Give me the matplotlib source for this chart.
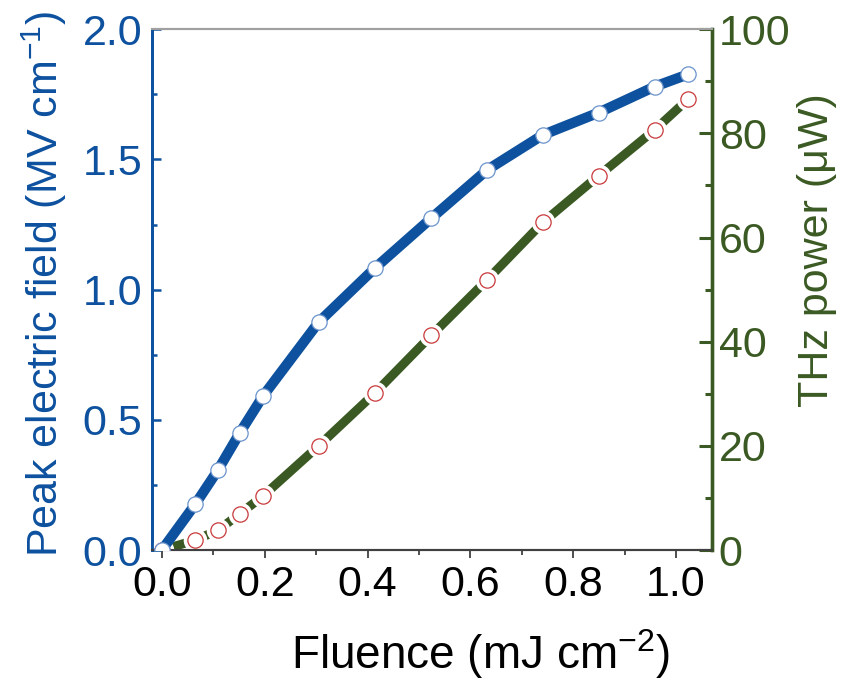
import matplotlib
matplotlib.use("Agg")
import matplotlib.pyplot as plt
from matplotlib.ticker import MultipleLocator

plt.rcParams['font.family'] = ['Liberation Sans', 'DejaVu Sans']
plt.rcParams['mathtext.fontset'] = 'custom'
plt.rcParams['mathtext.rm'] = 'Liberation Sans'
plt.rcParams['mathtext.it'] = 'Liberation Sans:italic'
plt.rcParams['mathtext.bf'] = 'Liberation Sans:bold'

# Data
fluence = [0.0, 0.065, 0.109, 0.151, 0.197, 0.305, 0.414, 0.524, 0.633, 0.741, 0.850, 0.959, 1.024]
field = [0.0, 0.176, 0.307, 0.448, 0.592, 0.875, 1.082, 1.274, 1.460, 1.594, 1.680, 1.780, 1.827]
power = [0.0, 1.9, 3.8, 6.9, 10.4, 20.0, 30.1, 41.2, 51.9, 62.9, 71.9, 80.7, 86.6]

xticks = [0.0, 0.2, 0.4, 0.6, 0.8, 1.0]
yticks_left = [0.0, 0.5, 1.0, 1.5, 2.0]
yticks_right = [0, 20, 40, 60, 80, 100]

BLUE = '#0d519f'
BLUE_EDGE = '#6b93cc'
GREEN = '#3b5a23'
RED = '#c8393a'
FS = 31
FS_Y = 31
FS_X = 33

fig = plt.figure(figsize=(8.44, 6.83), dpi=100)
ax = fig.add_axes([0.180, 0.1947, 0.6635, 0.7625])
ax2 = ax.twinx()

# Blue: peak electric field
ax.plot(fluence, field, '-', color=BLUE, lw=7.4, zorder=2, solid_capstyle='butt')
ax.plot(fluence, field, 'o', ms=11, mfc='white', mec=BLUE_EDGE, mew=0.9, zorder=3)

# Green: THz power
ax2.plot(fluence, power, '-', color=GREEN, lw=6.5, zorder=2, solid_capstyle='butt')
ax2.plot(fluence, power, 'o', ms=17, mfc='white', mec='white', mew=0, zorder=3)
ax2.plot(fluence, power, 'o', ms=11, mfc='white', mec=RED, mew=0.9, zorder=4)

ax.set_xlim(-0.0194, 1.070)
ax.set_ylim(0, 2.0)
ax2.set_ylim(0, 100)

ax.set_xticks(xticks)
ax.set_xticklabels([f'{v:.1f}' for v in xticks])
ax.xaxis.set_minor_locator(MultipleLocator(0.1))
ax.set_yticks(yticks_left)
ax.set_yticklabels([f'{v:.1f}' for v in yticks_left])
ax.yaxis.set_minor_locator(MultipleLocator(0.25))
ax2.set_yticks(yticks_right)
ax2.set_yticklabels([str(v) for v in yticks_right])
ax2.yaxis.set_minor_locator(MultipleLocator(10))

# Spines
for a in (ax, ax2):
    a.spines['top'].set_color('#a0a0a0')
    a.spines['top'].set_linewidth(1.5)
    a.spines['bottom'].set_color('#404040')
    a.spines['bottom'].set_linewidth(1.5)
    a.spines['left'].set_color(BLUE)
    a.spines['left'].set_linewidth(2.0)
    a.spines['right'].set_color(GREEN)
    a.spines['right'].set_linewidth(2.4)

# Ticks
ax.tick_params(axis='x', which='major', direction='out', length=5.8, width=1.3,
               color='#404040', labelsize=FS, pad=5, top=False)
ax.tick_params(axis='x', which='minor', direction='out', length=3.6, width=1.3,
               color='#404040', top=False)
ax.tick_params(axis='y', which='major', direction='in', length=6.5, width=1.8,
               color=BLUE, labelcolor=BLUE, labelsize=FS, pad=7, right=False)
ax.tick_params(axis='y', which='minor', direction='in', length=3.3, width=1.8,
               color=BLUE, right=False)
ax2.tick_params(axis='y', which='major', direction='in', length=9.4, width=2.2,
                color=GREEN, labelcolor=GREEN, labelsize=FS, pad=5, left=False)
ax2.tick_params(axis='y', which='minor', direction='in', length=5.0, width=2.2,
                color=GREEN, left=False)

fig.canvas.draw()
mt = ax2.yaxis.get_major_ticks()
for t in (mt[0], mt[-1]):
    t.tick2line.set_color(RED)

# Labels
ax.set_xlabel(r'Fluence (mJ cm$^{\mathregular{-2}}$)', fontsize=FS_X, color='black')
ax.xaxis.label.set_va('baseline')
ax.xaxis.set_label_coords(0.586, -0.2288)

ax.set_ylabel(r'Peak electric field (MV cm$^{\mathregular{-1}}$)', fontsize=FS_Y, color=BLUE)
ax.yaxis.label.set_va('center')
ax.yaxis.set_label_coords(-0.193, 0.512)

ax2.set_ylabel('THz power (μW)', fontsize=FS_Y, color=GREEN, rotation=90)
ax2.yaxis.label.set_va('center')
ax2.yaxis.set_label_coords(1.1875, 0.575)

ax.set_zorder(ax2.get_zorder() + 1)
ax.patch.set_visible(False)

fig.savefig('out.png', dpi=100)
